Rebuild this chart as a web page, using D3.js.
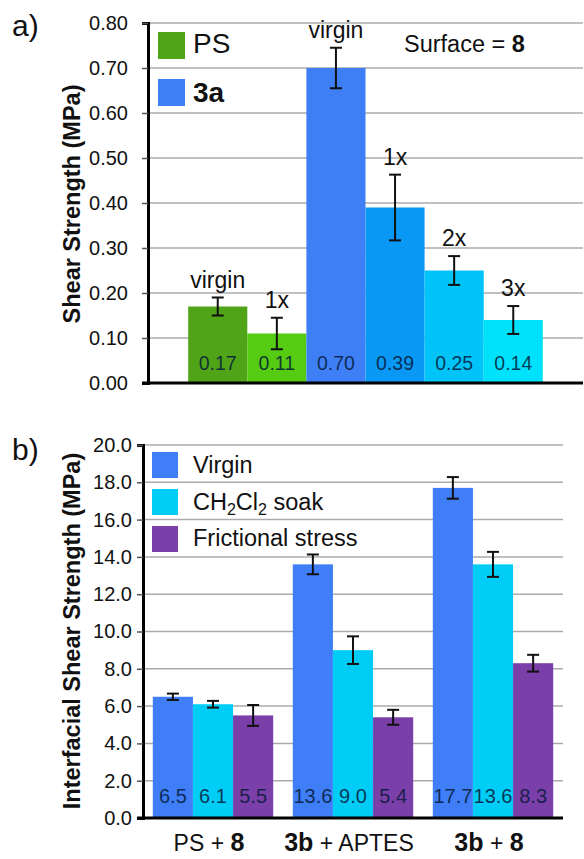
<!DOCTYPE html>
<html>
<head>
<meta charset="utf-8">
<script src="https://cdn.jsdelivr.net/npm/d3@7"></script>
<style>
body { margin: 0; background: #fff; }
text { font-family: "Liberation Sans", Arial, Helvetica, sans-serif; }
</style>
</head>
<body>
<div id="chart"></div>
<script>
// panel a data
var topLabels = ["virgin", "1x", "virgin", "1x", "2x", "3x"];
var topSeries = ["PS", "PS", "3a", "3a", "3a", "3a"];
var topValues = [0.17, 0.11, 0.70, 0.39, 0.25, 0.14];
var topErrors = [0.02, 0.035, 0.045, 0.073, 0.032, 0.031];
var topColors = ["#4fa417", "#55cb12", "#3e7ff5", "#0a98f5", "#00c4f7", "#00e2fb"];
var topLegend = ["PS", "3a"];
var topLegendColors = ["#4fa417", "#3e7ff5"];

// panel b data
var groups = ["PS + 8", "3b + APTES", "3b + 8"];
var groupParts = [[["PS + ", false], ["8", true]],
                  [["3b", true], [" + APTES", false]],
                  [["3b", true], [" + ", false], ["8", true]]];
var seriesNames = ["Virgin", "CH2Cl2 soak", "Frictional stress"];
var virgin = [6.5, 13.6, 17.7];
var soak = [6.1, 9.0, 13.6];
var friction = [5.5, 5.4, 8.3];
var virginErr = [0.17, 0.53, 0.58];
var soakErr = [0.18, 0.74, 0.67];
var frictionErr = [0.56, 0.40, 0.45];
var seriesColors = ["#3f7ef6", "#00cdf6", "#7b3fa9"];

var svg = d3.select("#chart")
  .append("svg")
  .attr("width", 584)
  .attr("height", 859);

// ---------- panel a ----------
var ya = d3.scaleLinear().domain([0, 0.8]).range([383, 23]);
var xa = d3.scaleBand().domain(d3.range(topValues.length)).range([148, 583])
  .paddingInner(0).paddingOuter(0.68);

var ga = svg.append("g");
ga.selectAll("line.grid").data(ya.ticks(8).slice(1)).enter()
  .append("line")
  .attr("x1", 148).attr("x2", 583)
  .attr("y1", function(d) { return ya(d); })
  .attr("y2", function(d) { return ya(d); })
  .attr("stroke", "#ababab").attr("stroke-width", 1.5);

ga.append("g")
  .attr("transform", "translate(148,0)")
  .call(d3.axisLeft(ya).ticks(8).tickFormat(d3.format(".2f")).tickSize(6).tickPadding(14))
  .call(function(g) {
    g.select(".domain").attr("stroke-width", 3);
    g.selectAll(".tick line").attr("stroke-width", 1.5).attr("stroke", "#555");
    g.selectAll(".tick text").attr("font-size", 20).attr("fill", "#111")
      .attr("font-family", "Liberation Sans, Arial, sans-serif");
  });

ga.selectAll("rect.bar").data(topValues).enter()
  .append("rect")
  .attr("x", function(d, i) { return xa(i); })
  .attr("width", xa.bandwidth())
  .attr("y", function(d) { return ya(d); })
  .attr("height", function(d) { return ya(0) - ya(d); })
  .attr("fill", function(d, i) { return topColors[i]; });

// error bars
topValues.forEach(function(v, i) {
  var cx = xa(i) + xa.bandwidth() / 2;
  var t = ya(v + topErrors[i]), b = ya(v - topErrors[i]);
  ga.append("line").attr("x1", cx).attr("x2", cx).attr("y1", t).attr("y2", b)
    .attr("stroke", "#111").attr("stroke-width", 2);
  [t, b].forEach(function(y) {
    ga.append("line").attr("x1", cx - 6).attr("x2", cx + 6).attr("y1", y).attr("y2", y)
      .attr("stroke", "#111").attr("stroke-width", 2);
  });
  ga.append("text").attr("x", cx).attr("y", t - 10)
    .attr("text-anchor", "middle").attr("font-size", 23).attr("fill", "#111")
    .text(topLabels[i]);
  ga.append("text").attr("x", cx).attr("y", 370)
    .attr("text-anchor", "middle").attr("font-size", 19.5).attr("fill", "#061a3a").attr("fill-opacity", 0.85)
    .text(d3.format(".2f")(v));
});

ga.append("line").attr("x1", 142).attr("x2", 583).attr("y1", ya(0)).attr("y2", ya(0))
  .attr("stroke", "#000").attr("stroke-width", 3);

// legend a
topLegend.forEach(function(s, i) {
  ga.append("rect").attr("x", 158).attr("y", 32 + i * 47).attr("width", 27).attr("height", 27)
    .attr("fill", topLegendColors[i]);
  ga.append("text").attr("x", 193).attr("y", 53 + i * 49)
    .attr("font-size", 28).attr("font-weight", i == 1 ? "bold" : "normal").attr("fill", "#111")
    .text(s);
});

var surf = ga.append("text").attr("x", 404).attr("y", 52).attr("font-size", 23.5).attr("fill", "#111");
surf.append("tspan").text("Surface = ");
surf.append("tspan").attr("font-weight", "bold").text("8");

ga.append("text").attr("transform", "translate(80,204) rotate(-90)")
  .attr("text-anchor", "middle").attr("font-size", 23.5).attr("font-weight", "bold").attr("fill", "#111")
  .text("Shear Strength (MPa)");

svg.append("text").attr("x", 12).attr("y", 36).attr("font-size", 30).attr("fill", "#111").text("a)");

// ---------- panel b ----------
var yb = d3.scaleLinear().domain([0, 20]).range([818, 445]);
var x0 = d3.scaleBand().domain(groups).range([143, 563]).paddingInner(0.14).paddingOuter(0.07);
var x1 = d3.scaleBand().domain(seriesNames).range([0, x0.bandwidth()]).padding(0);

var gb = svg.append("g");
gb.selectAll("line.grid").data(yb.ticks(10).slice(1)).enter()
  .append("line")
  .attr("x1", 143).attr("x2", 563)
  .attr("y1", function(d) { return yb(d); })
  .attr("y2", function(d) { return yb(d); })
  .attr("stroke", "#ababab").attr("stroke-width", 1.5);

gb.append("g")
  .attr("transform", "translate(143,0)")
  .call(d3.axisLeft(yb).ticks(10).tickFormat(d3.format(".1f")).tickSize(6).tickPadding(5))
  .call(function(g) {
    g.select(".domain").attr("stroke-width", 3);
    g.selectAll(".tick line").attr("stroke-width", 1.5).attr("stroke", "#555");
    g.selectAll(".tick text").attr("font-size", 20).attr("fill", "#111")
      .attr("font-family", "Liberation Sans, Arial, sans-serif");
  });

var bValues = [virgin, soak, friction];
var bErrors = [virginErr, soakErr, frictionErr];

groups.forEach(function(gname, gi) {
  seriesNames.forEach(function(s, si) {
    var v = bValues[si][gi], e = bErrors[si][gi];
    var x = x0(gname) + x1(s);
    var cx = x + x1.bandwidth() / 2;
    gb.append("rect").attr("x", x).attr("width", x1.bandwidth())
      .attr("y", yb(v)).attr("height", yb(0) - yb(v))
      .attr("fill", seriesColors[si]);
    var t = yb(v + e), b = yb(v - e);
    gb.append("line").attr("x1", cx).attr("x2", cx).attr("y1", t).attr("y2", b)
      .attr("stroke", "#111").attr("stroke-width", 2);
    [t, b].forEach(function(y) {
      gb.append("line").attr("x1", cx - 6).attr("x2", cx + 6).attr("y1", y).attr("y2", y)
        .attr("stroke", "#111").attr("stroke-width", 2);
    });
    gb.append("text").attr("x", cx).attr("y", 803)
      .attr("text-anchor", "middle").attr("font-size", 20).attr("fill", "#061a3a").attr("fill-opacity", 0.85)
      .text(d3.format(".1f")(v));
  });
  var lab = gb.append("text").attr("x", x0(gname) + x0.bandwidth() / 2 - 4).attr("y", 851)
    .attr("text-anchor", "middle").attr("font-size", 23).attr("fill", "#111");
  groupParts[gi].forEach(function(p) {
    lab.append("tspan").attr("font-weight", p[1] ? "bold" : "normal")
      .attr("font-size", p[1] ? 25 : 23).text(p[0]);
  });
});

gb.append("line").attr("x1", 137).attr("x2", 563).attr("y1", yb(0)).attr("y2", yb(0))
  .attr("stroke", "#000").attr("stroke-width", 3);

// legend b
seriesNames.forEach(function(s, i) {
  gb.append("rect").attr("x", 152).attr("y", 452 + i * 37).attr("width", 26).attr("height", 26)
    .attr("fill", seriesColors[i]);
  var t = gb.append("text").attr("x", 193).attr("y", 473 + i * 36.5)
    .attr("font-size", 23.5).attr("fill", "#111");
  if (s == "CH2Cl2 soak") {
    t.append("tspan").text("CH");
    t.append("tspan").attr("font-size", 16).attr("dy", 5).text("2");
    t.append("tspan").attr("dy", -5).text("Cl");
    t.append("tspan").attr("font-size", 16).attr("dy", 5).text("2");
    t.append("tspan").attr("dy", -5).text(" soak");
  } else {
    t.text(s);
  }
});

gb.append("text").attr("transform", "translate(80,631) rotate(-90)")
  .attr("text-anchor", "middle").attr("font-size", 23.5).attr("font-weight", "bold").attr("fill", "#111")
  .text("Interfacial Shear Strength (MPa)");

svg.append("text").attr("x", 12).attr("y", 460).attr("font-size", 30).attr("fill", "#111").text("b)");
</script>
</body>
</html>
